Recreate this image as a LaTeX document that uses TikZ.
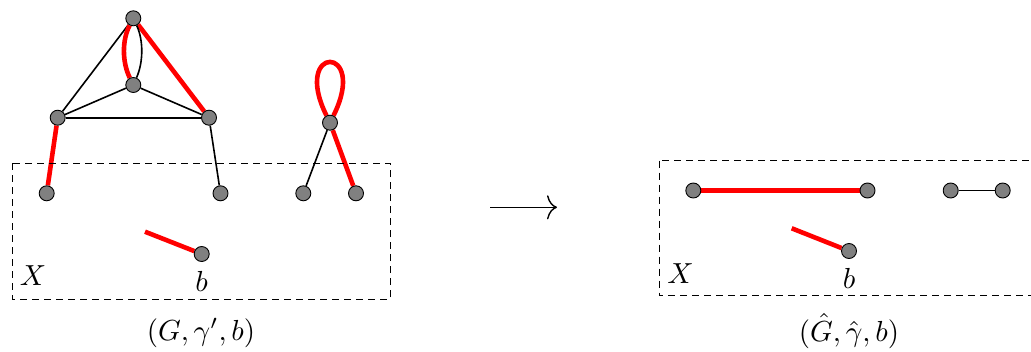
\documentclass[tikz,border=0pt]{standalone}
\usepackage{graphicx}
\usetikzlibrary{arrows.meta,backgrounds}
\definecolor{vgray}{RGB}{128,128,128}
\newcommand{\bigtxt}[1]{\scalebox{2.9}{#1}}
\begin{document}
\begin{tikzpicture}[x=1pt,y=-1pt,
  vtx/.style={circle,fill=vgray,draw=black,line width=0.9pt,minimum size=15pt,inner sep=0pt},
  redge/.style={red,line width=4.6pt},
  bedge/.style={black,line width=1.6pt},
  xbox/.style={dashed,dash pattern=on 7pt off 5pt,line width=1pt},
  lbl/.style={inner sep=0pt}]
\clip (0,0) rectangle (1031,351);
% left graph nodes
\node[vtx] (t) at (133.3,18.3) {};
\node[vtx] (m) at (133.3,85) {};
\node[vtx] (l) at (57.7,117.7) {};
\node[vtx] (r) at (209,117.7) {};
\node[vtx] (bl) at (46.7,193.3) {};
\node[vtx] (br) at (220.5,193.3) {};
\node[vtx] (c) at (330,122.7) {};
\node[vtx] (c1) at (303.3,193.3) {};
\node[vtx] (c2) at (356,193.3) {};
\node[vtx] (b) at (201.7,254) {};
\coordinate (bf) at (145,231.7);
% right graph nodes
\node[vtx] (p1) at (693.3,190.5) {};
\node[vtx] (p2) at (867.5,190.5) {};
\node[vtx] (q1) at (950.7,190.5) {};
\node[vtx] (q2) at (1002.7,190.5) {};
\node[vtx] (hb) at (849,251) {};
\coordinate (hbf) at (791.7,228.3);
\begin{scope}[on background layer]
\draw[bedge] (t) -- (l);
\draw[redge] (t) -- (r);
\draw[redge] (t) .. controls (122,40) and (122,62) .. (m);
\draw[bedge] (t) .. controls (143.5,40) and (143.5,62) .. (m);
\draw[bedge] (m) -- (l);
\draw[bedge] (m) -- (r);
\draw[bedge] (l) -- (r);
\draw[redge] (l) -- (bl);
\draw[bedge] (r) -- (br);
\draw[redge] (c) .. controls (291,44) and (369,44) .. (c);
\draw[bedge] (c) -- (c1);
\draw[redge] (c) -- (c2);
\draw[redge] (bf) -- (b);
\draw[redge] (p1) -- (p2);
\draw[bedge] (q1) -- (q2);
\draw[redge] (hbf) -- (hb);
\end{scope}
% boxes
\draw[xbox] (12.3,163.3) rectangle (390,299.3);
\draw[xbox] (659.3,160.7) rectangle (1045,295.7);
% labels
\node[lbl] (xl) at (33,276) {\bigtxt{$X$}};
\node[lbl] (bl2) at (201.5,281) {\bigtxt{$b$}};
\node[lbl] (cap1) at (201,333) {\bigtxt{$(G,\gamma',b)$}};
\node[lbl] (xr) at (680.5,273.5) {\bigtxt{$X$}};
\node[lbl] (br2) at (849,278) {\bigtxt{$b$}};
\node[lbl] (cap2) at (849,331) {\bigtxt{$(\hat{G},\hat{\gamma},b)$}};
% arrow
\coordinate (a1) at (490,207.3);
\coordinate (a2) at (557,207.3);
\draw[line width=1.4pt,-{Computer Modern Rightarrow[length=10pt,width=24pt]}] (a1) -- (a2);
\end{tikzpicture}
\end{document}
